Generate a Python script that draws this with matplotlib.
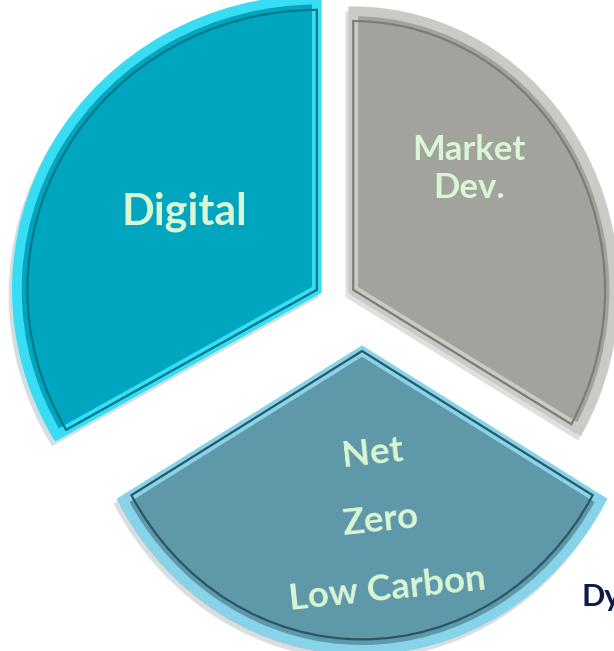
import matplotlib.pyplot as plt
from matplotlib.patches import Shadow
from matplotlib.transforms import Affine2D

# three equal segments, counter-clockwise from 12 o'clock
segments = ['Digital', 'Net Zero', 'Market Dev.']
shares = [1, 1, 1]
labels = ['Digital', 'Net\n\nZero\n\nLow Carbon', 'Market\nDev.']
corner_text = 'Dy'

face_colors = ['#00a5c0', '#5e98a9', '#a1a39c']
rim_colors = ['#38dcf3', '#86d3ea', '#c9cbc6']
inner_colors = ['#00788c', '#2c5663', '#7b7e76']
text_color = '#d9f7d4'

plt.rcParams['font.family'] = ['Lato', 'DejaVu Sans']

fig = plt.figure(figsize=(6.14, 6.51), dpi=100)
ax = fig.add_axes([0, 0, 1, 1])

explode = [0.07, 0.176, 0.07]
# the picture has a slight perspective: pieces on the right look narrower
side_shift = [0.0, 0.09, 0.0]
squeeze = [(1.0, 1.0), (0.92, 1.03), (0.87, 0.96)]

wedges, _ = ax.pie(shares, explode=explode, colors=face_colors, startangle=90,
                   counterclock=True,
                   shadow={'ox': -0.008, 'oy': -0.012, 'shade': 0.5, 'alpha': 0.18},
                   wedgeprops=dict(linewidth=7, joinstyle='miter'))
inner, _ = ax.pie(shares, explode=explode, startangle=90, radius=0.965,
                  wedgeprops=dict(fill=False, linewidth=1.6, joinstyle='miter'))

for i in range(len(shares)):
    w, iw = wedges[i], inner[i]
    w.set_edgecolor(rim_colors[i])
    iw.set_edgecolor(inner_colors[i])
    cx, cy = w.center
    cx += side_shift[i]
    w.set_center((cx, cy))
    iw.set_center((cx, cy))
    sx, sy = squeeze[i]
    tr = Affine2D().translate(-cx, -cy).scale(sx, sy).translate(cx, cy) + ax.transData
    w.set_transform(tr)
    iw.set_transform(tr)

# let the shadows follow the moved pieces
for p in ax.patches:
    if isinstance(p, Shadow):
        p.set_transform(p.patch.get_transform())

ax.set_aspect('auto')
ax.set_xlim(-1.117, 0.93)
ax.set_ylim(-1.21, 1.034)
ax.axis('off')

ax.text(184 / 614, 1 - 212 / 651, labels[0], transform=ax.transAxes,
        ha='center', va='center', fontsize=31, fontweight='bold', color=text_color)
ax.text(469 / 614, 1 - 169 / 651, labels[2], transform=ax.transAxes,
        ha='center', va='center', fontsize=25, fontweight='bold', color=text_color,
        linespacing=1.25)
ax.text(380 / 614, 1 - 521 / 651, labels[1], transform=ax.transAxes,
        ha='center', va='center', fontsize=26.5, fontweight='bold', color=text_color,
        linespacing=1.04, rotation=6)

ax.text(582 / 614, 1 - 597 / 651, corner_text, transform=ax.transAxes,
        ha='left', va='center', fontsize=22, fontweight='bold', color='#0d1b4a')

fig.savefig('out.png', dpi=100)
